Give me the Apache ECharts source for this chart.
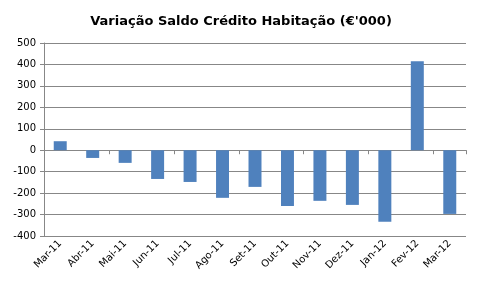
<!DOCTYPE html>
<html><head><meta charset="utf-8">
<script src="https://cdn.jsdelivr.net/npm/echarts@6/dist/echarts.min.js"></script>
<style>html,body{margin:0;padding:0;background:#fff}#c{width:482px;height:290px}</style>
</head><body><div id="c"></div>
<script>
const categories = ['Mar-11','Abr-11','Mai-11','Jun-11','Jul-11','Ago-11','Set-11','Out-11','Nov-11','Dez-11','Jan-12','Fev-12','Mar-12'];
const values = [42, -36, -59, -134, -148, -222, -171, -260, -236, -255, -334, 415, -297];
const titleText = "Variação Saldo Crédito Habitação (€'000)";

const chart = echarts.init(document.getElementById('c'), null, {renderer:'canvas'});
const gray = '#878787';
chart.setOption({
  animation: false,
  title: {text: titleText, left: 'center', top: 10,
    textStyle: {fontFamily: 'DejaVu Sans', fontWeight: 'bold', fontSize: 13, color: '#000'}},
  grid: {left: 44, right: 16, top: 43, bottom: 54},
  xAxis: [{
    type: 'category', data: categories, position: 'bottom',
    axisLine: {show: false, onZero: false}, axisTick: {show: false},
    axisLabel: {rotate: 45, fontFamily: 'DejaVu Sans', fontSize: 10, color: '#000', margin: 6, interval: 0}
  },{
    type: 'category', data: categories, position: 'top',
    axisLine: {show: true, onZero: true, lineStyle: {color: gray, width: 1}},
    axisTick: {show: true, inside: true, length: 4, lineStyle: {color: gray}},
    axisLabel: {show: false}
  }],
  yAxis: {
    type: 'value', min: -400, max: 500, interval: 100,
    axisLine: {show: true, lineStyle: {color: gray}},
    axisTick: {show: true, length: 4, lineStyle: {color: gray}},
    axisLabel: {fontFamily: 'DejaVu Sans', fontSize: 10, color: '#000', margin: 8},
    splitLine: {lineStyle: {color: gray, width: 1}}
  },
  series: [{type: 'bar', data: values, barWidth: '40%', itemStyle: {color: '#4F81BD'}}]
});
</script></body></html>
